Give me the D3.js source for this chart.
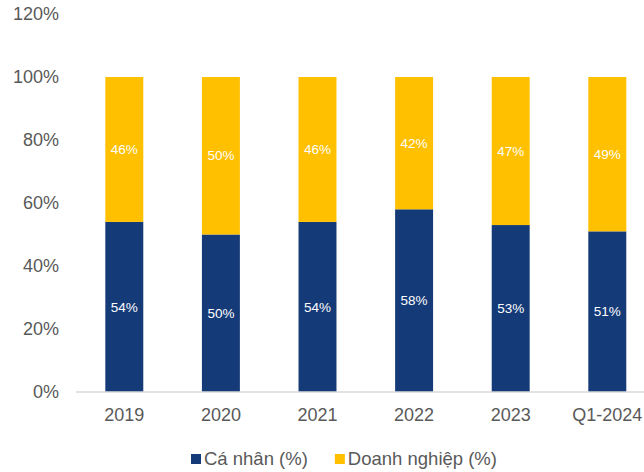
<!DOCTYPE html>
<html>
<head>
<meta charset="utf-8">
<script src="https://cdn.jsdelivr.net/npm/d3@7"></script>
<style>
  html, body { margin: 0; padding: 0; background: #fff; overflow: hidden; }
  svg { display: block; font-family: Arial, "Liberation Sans", sans-serif; }
</style>
</head>
<body>
<svg id="chart" width="644" height="472"></svg>
<script>
// Share of individual vs. corporate (%) by year
const categories = ["2019", "2020", "2021", "2022", "2023", "Q1-2024"];
const caNhan = [54, 50, 54, 58, 53, 51];
const doanhNghiep = [46, 50, 46, 42, 47, 49];
const yTicks = [0, 20, 40, 60, 80, 100, 120];
const seriesNames = ["Cá nhân (%)", "Doanh nghiệp (%)"];
const seriesColors = ["#153A78", "#FFC000"];

const svg = d3.select("#chart");
const plotLeft = 76, plotRight = 655.6, plotTop = 14, plotBottom = 392;

const x = d3.scaleBand()
  .domain(categories)
  .range([plotLeft, plotRight])
  .paddingInner(0.607)
  .paddingOuter(0.3035);

const y = d3.scaleLinear().domain([0, 120]).range([plotBottom, plotTop]);

// Y axis labels (no line, no ticks)
const yAxis = svg.append("g")
  .attr("transform", `translate(${plotLeft},0)`)
  .call(d3.axisLeft(y).tickValues(yTicks).tickFormat(d => d + "%").tickSize(0).tickPadding(17));
yAxis.select(".domain").remove();
yAxis.selectAll("text")
  .attr("fill", "#595959")
  .style("font-size", "18px");

// Stacked data
const rows = categories.map((c, i) => ({ cat: c, a: caNhan[i], b: doanhNghiep[i] }));
const stack = d3.stack().keys(["a", "b"])(rows);

stack.forEach((layer, li) => {
  const g = svg.append("g");
  g.selectAll("rect")
    .data(layer)
    .join("rect")
    .attr("x", d => x(d.data.cat))
    .attr("width", x.bandwidth())
    .attr("y", d => y(d[1]))
    .attr("height", d => y(d[0]) - y(d[1]))
    .attr("fill", seriesColors[li]);
  g.selectAll("text")
    .data(layer)
    .join("text")
    .attr("x", d => x(d.data.cat) + x.bandwidth() / 2)
    .attr("y", d => (y(d[0]) + y(d[1])) / 2)
    .attr("dy", "0.35em")
    .attr("text-anchor", "middle")
    .attr("fill", "#ffffff")
    .style("font-size", "13.5px")
    .text(d => (d[1] - d[0]) + "%");
});

// X axis: baseline and category labels
const xAxis = svg.append("g")
  .attr("transform", `translate(0,${plotBottom})`)
  .call(d3.axisBottom(x).tickSize(0).tickPadding(16));
xAxis.select(".domain").attr("stroke", "#d9d9d9").attr("stroke-width", 1.5)
  .attr("d", `M${plotLeft},0H${plotRight}`);
xAxis.selectAll("text")
  .attr("fill", "#595959")
  .style("font-size", "18px");

// Legend
const legend = svg.append("g").attr("transform", "translate(191,459)");
let lx = 0;
seriesNames.forEach((name, i) => {
  const item = legend.append("g").attr("transform", `translate(${lx},0)`);
  item.append("rect").attr("x", 0).attr("y", -5).attr("width", 10).attr("height", 10).attr("fill", seriesColors[i]);
  const t = item.append("text").attr("x", 13).attr("y", 0).attr("dy", "0.35em")
    .attr("fill", "#595959").style("font-size", "18.5px").text(name);
  lx += 13 + t.node().getComputedTextLength() + 27;
});
</script>
</body>
</html>
